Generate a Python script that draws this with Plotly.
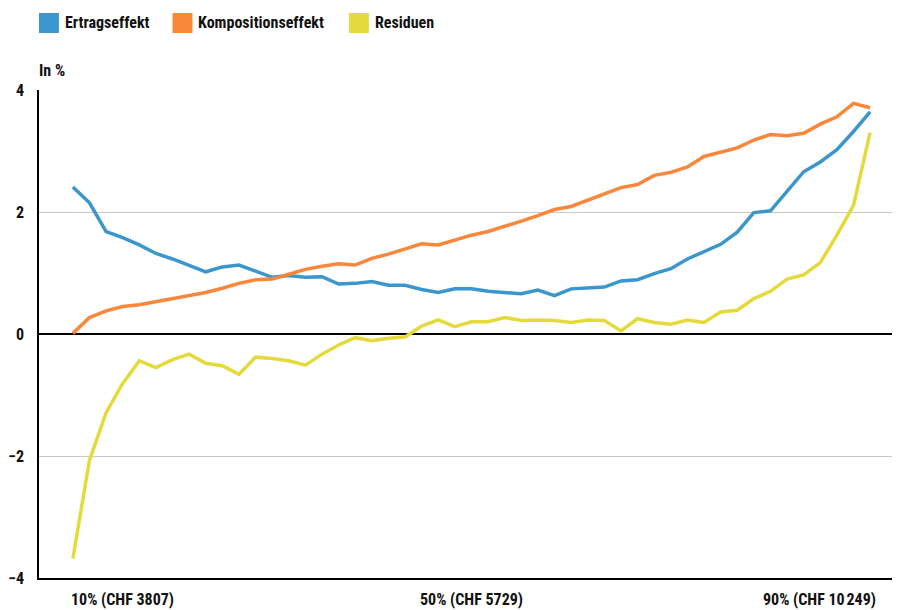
import plotly.graph_objects as go

# --- data (49 equally spaced points from the 10th to the 90th percentile) ---
idx = list(range(49))

ertragseffekt = [2.41, 2.15, 1.68, 1.58, 1.46, 1.32, 1.23, 1.13, 1.02, 1.10,
                 1.13, 1.03, 0.93, 0.96, 0.93, 0.94, 0.82, 0.83, 0.86, 0.80,
                 0.80, 0.73, 0.68, 0.74, 0.74, 0.70, 0.68, 0.66, 0.72, 0.63,
                 0.74, 0.75, 0.77, 0.87, 0.89, 0.99, 1.07, 1.23, 1.35, 1.47,
                 1.67, 1.99, 2.02, 2.33, 2.66, 2.82, 3.02, 3.32, 3.64]

kompositionseffekt = [0.01, 0.27, 0.38, 0.45, 0.48, 0.53, 0.58, 0.63, 0.68, 0.75,
                      0.83, 0.89, 0.90, 0.98, 1.06, 1.11, 1.15, 1.13, 1.24, 1.31,
                      1.39, 1.48, 1.46, 1.54, 1.62, 1.68, 1.76, 1.85, 1.94, 2.04,
                      2.09, 2.19, 2.30, 2.40, 2.45, 2.60, 2.65, 2.74, 2.91, 2.98,
                      3.05, 3.18, 3.27, 3.25, 3.29, 3.44, 3.56, 3.78, 3.71]

residuen = [-3.68, -2.07, -1.29, -0.81, -0.44, -0.55, -0.42, -0.33, -0.48, -0.52,
            -0.66, -0.38, -0.40, -0.44, -0.51, -0.33, -0.18, -0.06, -0.11, -0.07,
            -0.05, 0.13, 0.23, 0.12, 0.20, 0.20, 0.27, 0.22, 0.23, 0.22,
            0.19, 0.23, 0.22, 0.05, 0.25, 0.19, 0.16, 0.23, 0.19, 0.36,
            0.39, 0.58, 0.70, 0.90, 0.97, 1.17, 1.62, 2.11, 3.30]

series_names = ["Ertragseffekt", "Kompositionseffekt", "Residuen"]
series_colors = ["#3A96CC", "#F8873C", "#E4DA3C"]
series_values = [ertragseffekt, kompositionseffekt, residuen]

y_tickvals = [-4, -2, 0, 2, 4]
y_ticktext = ["\u22124", "\u22122", "0", "2", "4"]

x_label_pos = [0, 24, 48]
x_label_text = ["10% (CHF 3807)", "50% (CHF 5729)", "90% (CHF 10\u202f249)"]

FONT = "Roboto Condensed, Liberation Sans Narrow, Roboto, sans-serif"
FS = 16

fig = go.Figure()
for name, color, vals in zip(series_names, series_colors, series_values):
    fig.add_trace(go.Scatter(x=idx, y=vals, mode="lines", name=name,
                             line=dict(color=color, width=3.5),
                             showlegend=False))

# plot area on the page: x 36..900 px, y 90..578 px (page has an 8px body offset)
W, H = 864.0, 488.0
def px(xp):
    return (xp - 36) / W
def py(yp):
    return (578 - yp) / H

# custom legend with square swatches
legend_x = [36, 170, 347]
for lx, name, color in zip(legend_x, series_names, series_colors):
    fig.add_shape(type="rect", xref="paper", yref="paper",
                  x0=px(lx), x1=px(lx + 20), y0=py(33), y1=py(13),
                  fillcolor=color, line=dict(width=0))
    fig.add_annotation(xref="paper", yref="paper", x=px(lx + 24), y=py(23),
                       xanchor="left", yanchor="middle", showarrow=False,
                       text=name, font=dict(size=FS, color="#111", family=FONT, weight="bold"))

fig.add_annotation(xref="paper", yref="paper", x=px(34), y=py(70),
                   xanchor="left", yanchor="middle", showarrow=False,
                   text="In %", font=dict(size=FS, color="#111", family=FONT, weight="bold"))

anchors = ["left", "center", "right"]
shifts = [-4, 0, 8]
for pos, txt, anc, sh in zip(x_label_pos, x_label_text, anchors, shifts):
    fig.add_annotation(xref="x", yref="paper", x=pos, y=0, yanchor="top",
                       xanchor=anc, xshift=sh, yshift=-10, showarrow=False,
                       text=txt, font=dict(size=FS, color="#111", family=FONT, weight="bold"))

fig.update_layout(
    width=892, height=602,
    margin=dict(l=28, r=0, t=82, b=32),
    paper_bgcolor="white", plot_bgcolor="white",
    showlegend=False,
    font=dict(family=FONT, size=FS, color="#111"),
    xaxis=dict(range=[-2.04, 49.8], showgrid=False, zeroline=False,
               showticklabels=False, ticks="", showline=True,
               linecolor="#000", linewidth=1.5),
    yaxis=dict(range=[-4, 4], tickvals=y_tickvals, ticktext=y_ticktext,
               showgrid=True, gridcolor="#c8c8c8", gridwidth=1,
               zeroline=True, zerolinecolor="#000", zerolinewidth=1.5,
               showline=True, linecolor="#000", linewidth=1.5,
               ticks="", ticklabelstandoff=10,
               tickfont=dict(size=FS, color="#111", family=FONT, weight="bold")),
)

fig.write_html("out.html")
